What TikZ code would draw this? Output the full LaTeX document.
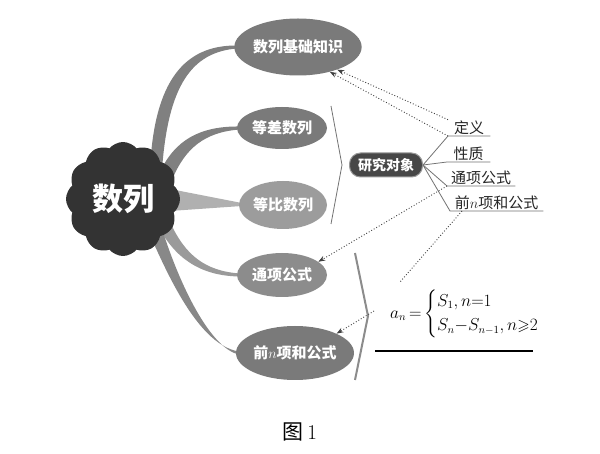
\documentclass[tikz,border=0pt]{standalone}
\usepackage{fontspec}
\usepackage{amsmath,amssymb}
\newfontfamily\cjk{Noto Sans CJK SC}
\usetikzlibrary{shapes.geometric,shapes.symbols,arrows.meta,calc}
\pgfdeclarelayer{bg}
\pgfsetlayers{bg,main}
\definecolor{dark}{HTML}{333333}
\definecolor{gA}{HTML}{7A7A7A}
\definecolor{gB}{HTML}{8C8C8C}
\definecolor{gC}{HTML}{9C9C9C}
\definecolor{brA}{HTML}{808080}
\definecolor{brB}{HTML}{B0B0B0}
\definecolor{brC}{HTML}{9A9A9A}
\definecolor{brD}{HTML}{888888}
\begin{document}
\begin{tikzpicture}[x=1pt,y=-1pt,
  oval/.style={ellipse, inner sep=0pt, text=white, font=\cjk\bfseries\fontsize{15}{18}\selectfont},
  lab/.style={inner sep=1pt, text=black!85, font=\cjk\fontsize{15}{18}\selectfont},
  ul/.style={draw=black!55, line width=0.8pt},
  dotl/.style={draw=black!75, dotted, line width=0.9pt},
  tip/.style={-{Stealth[length=7pt,width=5pt]}},
  bra/.style={draw=black!55, line width=0.8pt},
  brb/.style={draw=black!45, line width=2pt}]
\useasboundingbox (0,0) rectangle (600,454);

% central cloud
\node[cloud, cloud puffs=12, cloud puff arc=100, aspect=1, minimum width=114, minimum height=114,
      fill=dark, inner sep=0pt, text=white, font=\cjk\bfseries\fontsize{31}{36}\selectfont] (root) at (123,199) {数列};

% ellipses
\node[oval, fill=gA, minimum width=122, minimum height=57] (sj) at (298,47) {数列基础知识};
\node[oval, fill=gA, minimum width=90, minimum height=42] (dc) at (282,128) {等差数列};
\node[oval, fill=gC, minimum width=88, minimum height=48] (db) at (283,205) {等比数列};
\node[oval, fill=gB, minimum width=90, minimum height=44] (tx) at (282,275) {通项公式};
\node[oval, fill=gA, minimum width=114, minimum height=54] (qn) at (295,353) {前$n$项和公式};

% research object
\node[rectangle, rounded corners=11pt, minimum width=73, minimum height=24, inner sep=1pt,
      fill=black!72, draw=black!40, line width=1pt, text=white,
      font=\cjk\bfseries\fontsize{14}{17}\selectfont] (rs) at (386,165) {研究对象};

% labels
\node[lab, anchor=south west, minimum width=42] (d1) at (448,136) {定义};
\node[lab, anchor=south west, minimum width=43] (d2) at (447,162) {性质};
\node[lab, anchor=south west, minimum width=68] (d3) at (447,186) {通项公式};
\node[lab, anchor=south west, minimum width=93] (d4) at (450,211) {前$n$项和公式};
\draw[ul] (rs.east) -- (d1.south west) -- (d1.south east);
\draw[ul] (rs.east) -- (d2.south west) -- (d2.south east);
\draw[ul] (rs.east) -- (d3.south west) -- (d3.south east);
\draw[ul] (rs.east) -- (d4.south west) -- (d4.south east);

% brackets
\coordinate (k1) at (342,165);
\draw[bra] (331,106) -- (k1) -- (331,224);
\coordinate (k2) at (368,316);
\draw[brb] (355,253) -- (k2) -- (355,380);

% formula
\node[anchor=west, inner sep=0pt, font=\fontsize{16}{19}\selectfont] (f) at (390,314)
  {$a_n{\,=\,}\!\begin{cases}S_1,n{=}1\\[2pt] S_n{-}S_{n-1},n{\geqslant}2\end{cases}$};
\draw[line width=1.2pt] (375,351) -- (533,351);

% dotted arrows
\draw[dotl, tip] (d1.north west) -- (sj.-30);
\draw[dotl, tip] (d1.south west) -- (sj.-38);
\draw[dotl, tip] (d3.south west) -- (tx.20);
\coordinate (fe) at (400,282);
\draw[dotl] ([xshift=12pt]d4.south west) -- (fe);
\draw[dotl, tip] ([xshift=6pt,yshift=5pt]k2) -- (qn.25);

% caption
\node[font=\fontsize{21}{24}\selectfont] (cap) at (300,432) {{\cjk 图}\,1};

% branches
\begin{pgfonlayer}{bg}
\fill[white] (0,0) rectangle (600,454);
\fill[brA] (150,170) .. controls (154,80) and (185,45) .. ([xshift=3pt,yshift=1.5pt]sj.west)
  -- ([xshift=3pt,yshift=-1.5pt]sj.west) .. controls (192,52) and (168,85) .. (162,170) -- cycle;
\fill[brA] (160,172) .. controls (175,140) and (200,126) .. ([xshift=3pt,yshift=1.5pt]dc.west)
  -- ([xshift=3pt,yshift=-1.5pt]dc.west) .. controls (205,132) and (185,148) .. (172,180) -- cycle;
\fill[brB] (170,189) -- ([xshift=3pt,yshift=2pt]db.west) -- ([xshift=3pt,yshift=-1pt]db.west) -- (170,211) -- cycle;
\fill[brC] (170,222) .. controls (185,255) and (205,271) .. ([xshift=3pt,yshift=1.5pt]tx.west)
  -- ([xshift=3pt,yshift=-1.5pt]tx.west) .. controls (200,276) and (175,258) .. (158,226) -- cycle;
\fill[brD] (150,235) .. controls (170,280) and (200,345) .. ([xshift=3pt,yshift=1.5pt]qn.west)
  -- ([xshift=3pt,yshift=-1.5pt]qn.west) .. controls (210,348) and (180,285) .. (163,232) -- cycle;
\end{pgfonlayer}
\end{tikzpicture}
\end{document}
